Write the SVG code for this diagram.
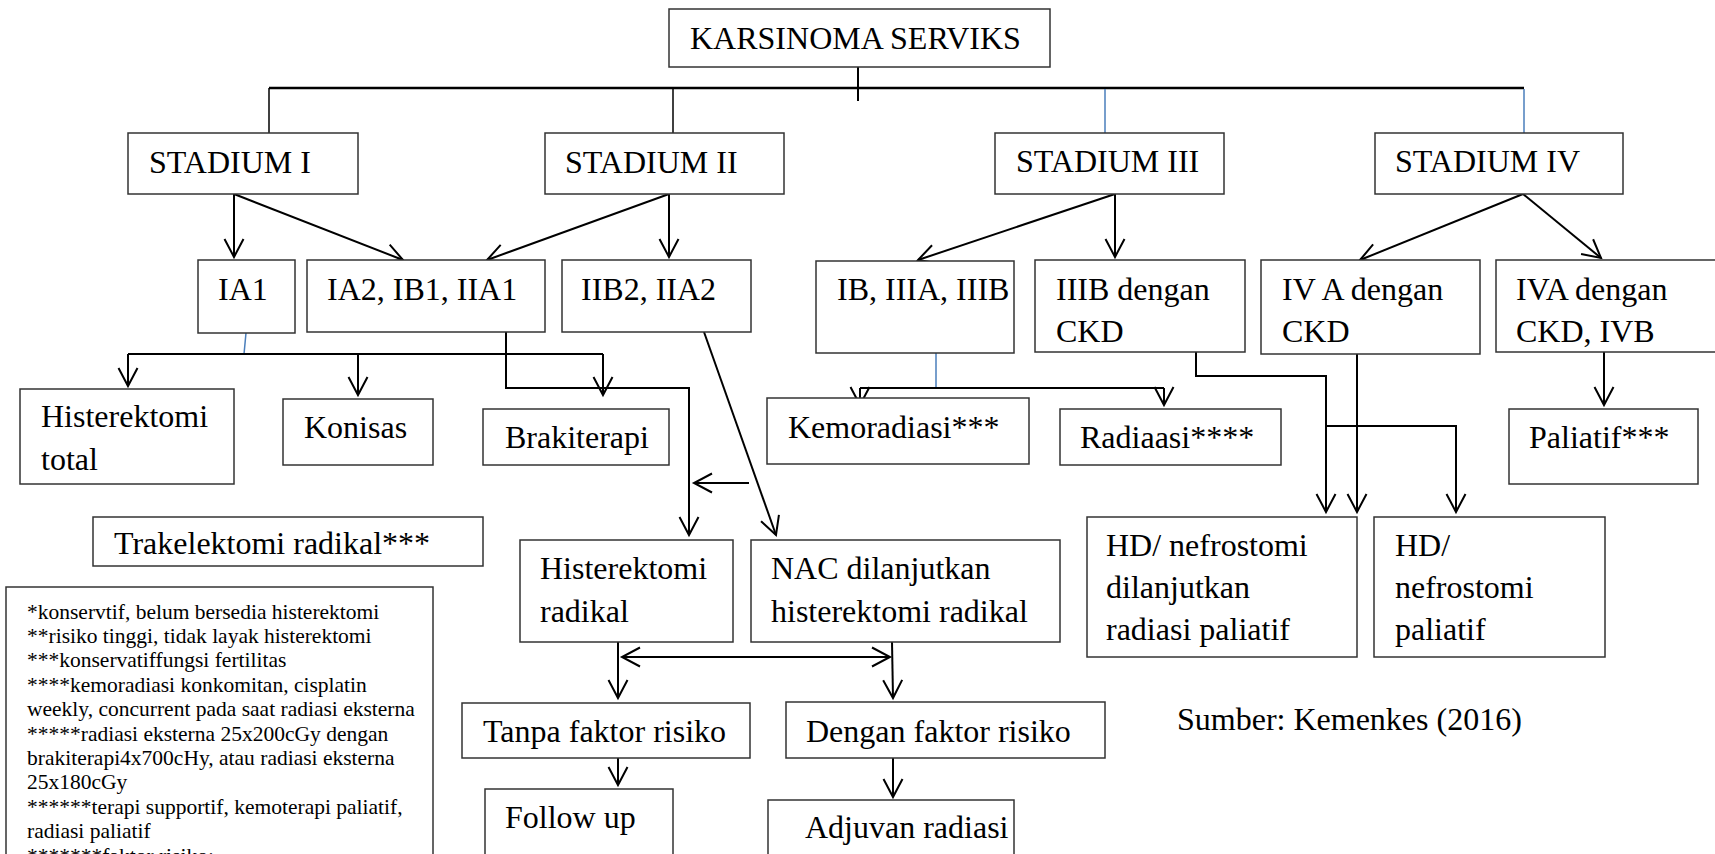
<svg xmlns="http://www.w3.org/2000/svg" width="1715" height="854" viewBox="0 0 1715 854">
<style>
.box{fill:#fff;stroke:#333;stroke-width:1.5}
.t{font-family:"Liberation Serif","Times New Roman",serif;font-size:32px;fill:#000}
.fn{font-family:"Liberation Serif","Times New Roman",serif;font-size:21.5px;fill:#000}
.c{fill:none;stroke:#000;stroke-width:2}
.blue{fill:none;stroke:#4a7ebb;stroke-width:1.5}
.a{marker-end:url(#ah)}
</style>
<defs>
<marker id="ah" markerUnits="userSpaceOnUse" markerWidth="40" markerHeight="40" viewBox="-20 -20 40 40" refX="0" refY="0" orient="auto-start-reverse" overflow="visible">
<path d="M-18,-9.5 L0,0 L-18,9.5" fill="none" stroke="#000" stroke-width="2"/>
</marker>
</defs>
<rect width="1715" height="854" fill="#fff"/>
<g id="connectors">
<line class="c" x1="858" y1="67" x2="858" y2="101"/>
<line class="c" x1="269" y1="88" x2="1524" y2="88" style="stroke-width:2.5"/>
<line class="c" x1="269" y1="88" x2="269" y2="133" style="stroke-width:1.5"/>
<line class="c" x1="673" y1="88" x2="673" y2="133" style="stroke-width:1.5"/>
<line class="blue" x1="1105" y1="89" x2="1105" y2="133"/>
<line class="blue" x1="1524" y1="89" x2="1524" y2="133"/>
<line class="c a" x1="234" y1="194" x2="234" y2="257"/>
<line class="c a" x1="234" y1="194" x2="403" y2="260"/>
<line class="c a" x1="669" y1="194" x2="669" y2="257"/>
<line class="c a" x1="669" y1="194" x2="487" y2="260"/>
<line class="c a" x1="1115" y1="194" x2="1115" y2="257"/>
<line class="c a" x1="1115" y1="194" x2="918" y2="260"/>
<line class="c a" x1="1523" y1="194" x2="1360" y2="260"/>
<line class="c a" x1="1523" y1="194" x2="1601" y2="258"/>
<line class="blue" x1="246" y1="333" x2="244" y2="354"/>
<line class="c" x1="128" y1="354" x2="603" y2="354"/>
<line class="c a" x1="128" y1="354" x2="128" y2="386"/>
<line class="c a" x1="358" y1="354" x2="358" y2="395"/>
<line class="c a" x1="603" y1="354" x2="603" y2="395"/>
<polyline class="c a" points="506,332 506,388 689,388 689,535"/>
<line class="c a" x1="749" y1="483" x2="694" y2="483"/>
<line class="c a" x1="704" y1="332" x2="776" y2="535"/>
<line class="blue" x1="936" y1="353" x2="936" y2="388"/>
<line class="c" x1="860" y1="388" x2="1164" y2="388"/>
<line class="c a" x1="860" y1="388" x2="860" y2="405"/>
<line class="c a" x1="1164" y1="388" x2="1164" y2="405"/>
<polyline class="c a" points="1196,352 1196,376 1326,376 1326,512"/>
<line class="c a" x1="1357" y1="354" x2="1357" y2="512"/>
<polyline class="c a" points="1326,426 1456,426 1456,512"/>
<line class="c a" x1="1604" y1="352" x2="1604" y2="405"/>
<line class="c a" x1="618" y1="642" x2="618" y2="698"/>
<line class="c a" x1="622" y1="657" x2="890" y2="657" style="marker-start:url(#ah)"/>
<line class="c a" x1="892" y1="642" x2="893" y2="698"/>
<line class="c a" x1="618" y1="758" x2="618" y2="785"/>
<line class="c a" x1="893" y1="758" x2="893" y2="797"/>
</g>
<g id="karsinoma"><rect class="box" x="669" y="9" width="381" height="58"/><text class="t" x="690" y="49">KARSINOMA SERVIKS</text></g>
<g id="stadium1"><rect class="box" x="128" y="133" width="230" height="61"/><text class="t" x="149" y="173">STADIUM I</text></g>
<g id="stadium2"><rect class="box" x="545" y="133" width="239" height="61"/><text class="t" x="565" y="173">STADIUM II</text></g>
<g id="stadium3"><rect class="box" x="995" y="133" width="229" height="61"/><text class="t" x="1016" y="172">STADIUM III</text></g>
<g id="stadium4"><rect class="box" x="1375" y="133" width="248" height="61"/><text class="t" x="1395" y="172">STADIUM IV</text></g>
<g id="ia1"><rect class="box" x="198" y="260" width="97" height="73"/><text class="t" x="218" y="300">IA1</text></g>
<g id="ia2"><rect class="box" x="307" y="260" width="238" height="72"/><text class="t" x="327" y="300">IA2, IB1, IIA1</text></g>
<g id="iib2"><rect class="box" x="562" y="260" width="189" height="72"/><text class="t" x="581" y="300">IIB2, IIA2</text></g>
<g id="ib3"><rect class="box" x="816" y="261" width="198" height="92"/><text class="t" x="837" y="300">IB, IIIA, IIIB</text></g>
<g id="iiibckd"><rect class="box" x="1035" y="260" width="210" height="92"/><text class="t" x="1056" y="300">IIIB dengan</text><text class="t" x="1056" y="342">CKD</text></g>
<g id="ivackd"><rect class="box" x="1261" y="260" width="219" height="94"/><text class="t" x="1282" y="300">IV A dengan</text><text class="t" x="1282" y="342">CKD</text></g>
<g id="ivbckd"><rect class="box" x="1496" y="260" width="230" height="92"/><text class="t" x="1516" y="300">IVA dengan</text><text class="t" x="1516" y="342">CKD, IVB</text></g>
<g id="histotal"><rect class="box" x="20" y="389" width="214" height="95"/><text class="t" x="41" y="427">Histerektomi</text><text class="t" x="41" y="470">total</text></g>
<g id="konisas"><rect class="box" x="283" y="399" width="150" height="66"/><text class="t" x="304" y="438">Konisas</text></g>
<g id="brakiterapi"><rect class="box" x="483" y="409" width="186" height="56"/><text class="t" x="505" y="448">Brakiterapi</text></g>
<g id="kemoradiasi"><rect class="box" x="767" y="398" width="262" height="66"/><text class="t" x="788" y="438">Kemoradiasi***</text></g>
<g id="radiaasi"><rect class="box" x="1060" y="409" width="221" height="56"/><text class="t" x="1080" y="448">Radiaasi****</text></g>
<g id="paliatif"><rect class="box" x="1509" y="409" width="189" height="75"/><text class="t" x="1529" y="448">Paliatif***</text></g>
<g id="trakelektomi"><rect class="box" x="93" y="517" width="390" height="49"/><text class="t" x="114" y="554">Trakelektomi radikal***</text></g>
<g id="hisrad"><rect class="box" x="520" y="540" width="213" height="102"/><text class="t" x="540" y="579">Histerektomi</text><text class="t" x="540" y="622">radikal</text></g>
<g id="nac"><rect class="box" x="751" y="540" width="309" height="102"/><text class="t" x="771" y="579">NAC dilanjutkan</text><text class="t" x="771" y="622">histerektomi radikal</text></g>
<g id="hd1"><rect class="box" x="1087" y="517" width="270" height="140"/><text class="t" x="1106" y="556">HD/ nefrostomi</text><text class="t" x="1106" y="598">dilanjutkan</text><text class="t" x="1106" y="640">radiasi paliatif</text></g>
<g id="hd2"><rect class="box" x="1374" y="517" width="231" height="140"/><text class="t" x="1395" y="556">HD/</text><text class="t" x="1395" y="598">nefrostomi</text><text class="t" x="1395" y="640">paliatif</text></g>
<g id="tanpa"><rect class="box" x="462" y="703" width="288" height="55"/><text class="t" x="483" y="742">Tanpa faktor risiko</text></g>
<g id="dengan"><rect class="box" x="786" y="702" width="319" height="56"/><text class="t" x="806" y="742">Dengan faktor risiko</text></g>
<g id="followup"><rect class="box" x="485" y="789" width="188" height="90"/><text class="t" x="505" y="828">Follow up</text></g>
<g id="adjuvan"><rect class="box" x="768" y="800" width="246" height="80"/><text class="t" x="805" y="838">Adjuvan radiasi</text></g>
<g id="footnote"><rect class="box" x="6" y="587" width="427" height="290"/>
<text class="fn" x="27" y="618.5">*konservtif, belum bersedia histerektomi</text>
<text class="fn" x="27" y="642.9">**risiko tinggi, tidak layak histerektomi</text>
<text class="fn" x="27" y="667.3">***konservatiffungsi fertilitas</text>
<text class="fn" x="27" y="691.7">****kemoradiasi konkomitan, cisplatin</text>
<text class="fn" x="27" y="716.1">weekly, concurrent pada saat radiasi eksterna</text>
<text class="fn" x="27" y="740.5">*****radiasi eksterna 25x200cGy dengan</text>
<text class="fn" x="27" y="764.9">brakiterapi4x700cHy, atau radiasi eksterna</text>
<text class="fn" x="27" y="789.3">25x180cGy</text>
<text class="fn" x="27" y="813.7">******terapi supportif, kemoterapi paliatif,</text>
<text class="fn" x="27" y="838.1">radiasi paliatif</text>
<text class="fn" x="27" y="862.5">*******faktor risiko:</text>
</g>
<g id="sumber"><text class="t" x="1177" y="730">Sumber: Kemenkes (2016)</text></g>
</svg>
